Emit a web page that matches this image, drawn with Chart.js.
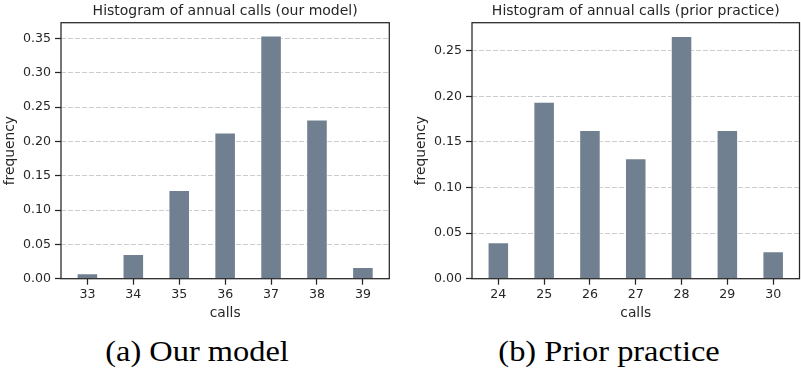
<!DOCTYPE html>
<html lang="en">
<head>
  <meta charset="UTF-8" />
  <title>Histogram of annual calls</title>
  <script src="https://cdn.jsdelivr.net/npm/chart.js"></script>
  <style>
    body { margin: 0; background: #fff; width: 801px; height: 379px; position: relative; overflow: hidden; }
    .panel { position: absolute; top: 0; height: 330px; }
    .caption { position: absolute; top: 334px; width: 300px; text-align: center;
      font-family: "Liberation Serif", serif; font-size: 30px; color: #000;
      transform: scaleX(1.08); }
  </style>
</head>
<body>
  <div class="panel" style="left: 0; width: 400px;"><canvas id="model"></canvas></div>
  <div class="panel" style="left: 411px; width: 390px;"><canvas id="prior"></canvas></div>
  <div class="caption" style="left: 47px;">(a) Our model</div>
  <div class="caption" style="left: 459px;">(b) Prior practice</div>

  <script>
    // data
    const modelCalls = [33, 34, 35, 36, 37, 38, 39];
    const modelFreq = [0.008, 0.036, 0.129, 0.213, 0.354, 0.232, 0.017];
    const modelTicks = [0, 0.05, 0.10, 0.15, 0.20, 0.25, 0.30, 0.35];

    const priorCalls = [24, 25, 26, 27, 28, 29, 30];
    const priorFreq = [0.040, 0.194, 0.163, 0.132, 0.266, 0.163, 0.030];
    const priorTicks = [0, 0.05, 0.10, 0.15, 0.20, 0.25];

    const ink = '#262626';
    Chart.defaults.font.family = '"DejaVu Sans", sans-serif';
    Chart.defaults.color = ink;

    const frame = {
      id: 'frame',
      afterDraw(chart) {
        const a = chart.chartArea, ctx = chart.ctx;
        ctx.save();
        ctx.strokeStyle = ink;
        ctx.lineWidth = 1.25;
        ctx.strokeRect(a.left, a.top, a.right - a.left, a.bottom - a.top);
        ctx.restore();
      }
    };

    function makeChart(id, calls, freq, yTicks, yMax, titleText, rightPad) {
      const ctx = document.getElementById(id).getContext('2d');
      return new Chart(ctx, {
        type: 'bar',
        data: {
          datasets: [{
            data: calls.map((c, i) => ({ x: c, y: freq[i] })),
            backgroundColor: '#708090',
            borderColor: 'rgba(255,255,255,0.7)',
            borderWidth: 1,
            barPercentage: 0.47,
            categoryPercentage: 1,
          }],
        },
        options: {
          responsive: true,
          maintainAspectRatio: false,
          animation: false,
          layout: { padding: { left: 0, right: rightPad, top: 0, bottom: 0 } },
          plugins: {
            legend: { display: false },
            tooltip: { enabled: false },
            title: {
              display: true, text: titleText, fullSize: false,
              font: { size: 14, weight: 'normal' }, color: ink,
              padding: { top: 3.4, bottom: 2.5 },
            },
          },
          scales: {
            x: {
              type: 'linear',
              offset: false,
              min: calls[0] - 0.575,
              max: calls[calls.length - 1] + 0.575,
              afterBuildTicks: s => { s.ticks = calls.map(v => ({ value: v })); },
              afterFit: s => { s.height = 51.3; },
              grid: { display: true, offset: false, drawOnChartArea: false, drawTicks: true,
                tickLength: 6, tickColor: ink, tickWidth: 1.25 },
              border: { display: false },
              ticks: { font: { size: 12.6 }, color: ink, padding: 2 },
              title: { display: true, text: 'calls', font: { size: 13.8 }, color: ink,
                padding: { top: 0, bottom: 8.6 } },
            },
            y: {
              min: 0,
              max: yMax,
              afterBuildTicks: s => { s.ticks = yTicks.map(v => ({ value: v })); },
              afterFit: s => { s.width = 61; },
              grid: { color: '#cccccc', lineWidth: 1, drawTicks: true,
                tickLength: 6, tickColor: ink, tickWidth: 1.25 },
              border: { display: false, dash: [5, 2] },
              ticks: { font: { size: 12.6 }, color: ink, padding: 4,
                callback: v => v.toFixed(2) },
              title: { display: true, text: 'frequency', font: { size: 13.8 }, color: ink,
                padding: { top: 2.6, bottom: 0 } },
            },
          },
        },
        plugins: [frame],
      });
    }

    makeChart('model', modelCalls, modelFreq, modelTicks, 0.3728,
      'Histogram of annual calls (our model)', 10.7);
    makeChart('prior', priorCalls, priorFreq, priorTicks, 0.2807,
      'Histogram of annual calls (prior practice)', 1.5);
  </script>
</body>
</html>
